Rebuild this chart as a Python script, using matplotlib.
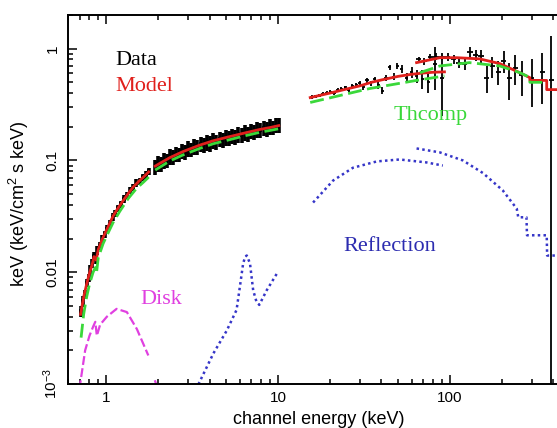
import numpy as np
import matplotlib
matplotlib.use('Agg')
import matplotlib.pyplot as plt
from matplotlib.ticker import NullFormatter

plt.rcParams['font.family'] = 'Liberation Sans'
plt.rcParams['mathtext.fontset'] = 'custom'
plt.rcParams['mathtext.rm'] = 'Liberation Sans'
plt.rcParams['mathtext.it'] = 'Liberation Sans:italic'

# ---- soft band data (0.7-10 keV) ----
lo_E = [0.71, 0.73, 0.75, 0.77, 0.79, 0.81, 0.83, 0.85, 0.87, 0.89,
        0.92, 0.95, 0.98, 1.01, 1.05, 1.09, 1.13, 1.17, 1.22, 1.27,
        1.32, 1.38, 1.44, 1.50, 1.57, 1.64, 1.71, 1.77,
        1.93, 2.00, 2.08, 2.16, 2.25, 2.34, 2.44, 2.54, 2.65, 2.76,
        2.88, 3.00, 3.13, 3.26, 3.40, 3.55, 3.70, 3.86, 4.03, 4.20,
        4.38, 4.57, 4.77, 4.97, 5.19, 5.41, 5.64, 5.89, 6.14, 6.40,
        6.68, 6.97, 7.27, 7.58, 7.91, 8.25, 8.61, 8.98, 9.37, 9.77, 10.1]
lo_F = [0.0045, 0.0055, 0.0064, 0.0080, 0.0089, 0.0106, 0.0120, 0.0140, 0.0130, 0.0157,
        0.0172, 0.0200, 0.0218, 0.0246, 0.0272, 0.0313, 0.0336, 0.0374, 0.0405, 0.0455,
        0.0485, 0.0537, 0.0572, 0.0628, 0.0652, 0.0708, 0.0740, 0.0800,
        0.0880, 0.0945, 0.0932, 0.1005, 0.1000, 0.1085, 0.1070, 0.1145, 0.1130, 0.1210,
        0.1195, 0.1280, 0.1255, 0.1340, 0.1315, 0.1400, 0.1365, 0.1450, 0.1420, 0.1510,
        0.1475, 0.1560, 0.1525, 0.1610, 0.1575, 0.1660, 0.1620, 0.1710, 0.1680, 0.1780,
        0.1740, 0.1840, 0.1810, 0.1900, 0.1865, 0.1960, 0.1920, 0.2010, 0.1975, 0.2070, 0.2090]
lo_err = [0.0005, 0.0006, 0.0006, 0.0007, 0.0008, 0.0009, 0.0010, 0.0012, 0.0011, 0.0013,
          0.0014, 0.0016, 0.0017, 0.0019, 0.0021, 0.0024, 0.0026, 0.0029, 0.0031, 0.0035,
          0.0037, 0.0041, 0.0044, 0.0048, 0.0050, 0.0054, 0.0057, 0.0062,
          0.0135, 0.0150, 0.0140, 0.0160, 0.0150, 0.0170, 0.0160, 0.0180, 0.0170, 0.0190,
          0.0180, 0.0200, 0.0190, 0.0210, 0.0200, 0.0220, 0.0210, 0.0230, 0.0220, 0.0240,
          0.0225, 0.0245, 0.0230, 0.0250, 0.0240, 0.0260, 0.0245, 0.0265, 0.0255, 0.0280,
          0.0265, 0.0290, 0.0275, 0.0300, 0.0285, 0.0305, 0.0290, 0.0315, 0.0300, 0.0325, 0.0330]

# ---- hard band, instrument 1 (15-95 keV) ----
h1_E = [15.8, 16.6, 17.4, 18.3, 19.2, 20.2, 21.2, 22.3, 23.4, 24.6,
        25.8, 27.1, 28.5, 29.9, 31.4, 33.0, 34.7, 36.5, 38.4, 40.4,
        42.5, 44.7, 47.0, 49.5, 52.5, 56.0, 60.0, 64.0, 69.0, 75.0, 82.0, 90.0]
h1_F = [0.370, 0.375, 0.380, 0.395, 0.400, 0.410, 0.400, 0.430, 0.440, 0.450,
        0.430, 0.460, 0.470, 0.490, 0.450, 0.520, 0.490, 0.530, 0.470, 0.420,
        0.550, 0.680, 0.560, 0.700, 0.660, 0.550, 0.620, 0.570, 0.540, 0.500, 0.730, 0.550]
h1_err = [0.012, 0.012, 0.013, 0.013, 0.014, 0.015, 0.015, 0.016, 0.017, 0.018,
          0.018, 0.020, 0.020, 0.022, 0.022, 0.025, 0.025, 0.030, 0.030, 0.030,
          0.035, 0.040, 0.040, 0.045, 0.050, 0.060, 0.070, 0.080, 0.100, 0.100, 0.300, 0.300]

# ---- hard band, instrument 2 (65-400 keV) ----
h2_E = [66, 71, 77, 83, 90, 97, 105, 113, 122, 131, 141,
        152, 164, 177, 191, 206, 222, 240, 262, 300, 345, 390]
h2_F = [0.80, 0.77, 0.84, 0.85, 0.85, 0.84, 0.80, 0.75, 0.73, 0.93, 0.88,
        0.86, 0.55, 0.70, 0.62, 0.78, 0.55, 0.67, 0.58, 0.55, 0.62, 0.52]
h2_err_lo = [0.05, 0.05, 0.06, 0.06, 0.06, 0.07, 0.07, 0.08, 0.08, 0.10, 0.10,
             0.12, 0.15, 0.15, 0.15, 0.18, 0.20, 0.20, 0.20, 0.25, 0.30, 0.5199]
h2_err_hi = [0.05, 0.05, 0.06, 0.06, 0.06, 0.07, 0.07, 0.08, 0.08, 0.10, 0.10,
             0.12, 0.15, 0.15, 0.15, 0.18, 0.20, 0.20, 0.20, 0.25, 0.30, 0.78]

# ---- total model (red) ----
mod_lo_E = [0.71, 0.74, 0.77, 0.80, 0.83, 0.85, 0.875, 0.90, 0.96, 1.02, 1.10, 1.18,
            1.26, 1.35, 1.44, 1.55, 1.65, 1.77]
mod_lo_F = [0.0042, 0.0060, 0.0078, 0.0098, 0.0118, 0.0138, 0.0128, 0.0160, 0.0205, 0.025,
            0.032, 0.038, 0.044, 0.051, 0.058, 0.065, 0.071, 0.079]
mod_mid_E = [1.93, 2.05, 2.35, 2.8, 3.5, 4.2, 5.2, 6.4, 7.8, 9.0, 10.1]
mod_mid_F = [0.089, 0.094, 0.106, 0.120, 0.137, 0.150, 0.163, 0.176, 0.189, 0.197, 0.205]
mod_h1_E = [15.4, 20, 25, 30, 35, 40, 50, 60, 70, 80, 93]
mod_h1_F = [0.365, 0.40, 0.435, 0.465, 0.50, 0.525, 0.565, 0.59, 0.605, 0.615, 0.62]
mod_h2_E = [64, 87.5, 110, 149, 195, 255, 292, 292, 366, 366, 420]
mod_h2_F = [0.75, 0.83, 0.83, 0.81, 0.735, 0.61, 0.55, 0.52, 0.52, 0.43, 0.43]

# ---- Thcomp (green) ----
th_lo_E = [0.715, 0.74, 0.77, 0.80, 0.84, 0.865, 0.88, 0.90, 0.96, 1.02, 1.10, 1.2,
           1.35, 1.5, 1.65, 1.77]
th_lo_F = [0.0026, 0.0042, 0.0060, 0.0078, 0.0100, 0.0110, 0.0100, 0.0135, 0.018, 0.022,
           0.028, 0.035, 0.046, 0.056, 0.064, 0.071]
th_mid_E = [1.93, 2.35, 2.8, 3.5, 4.2, 5.2, 6.4, 7.8, 10.1]
th_mid_F = [0.082, 0.099, 0.112, 0.128, 0.141, 0.153, 0.166, 0.178, 0.192]
th_h1_E = [15.4, 34.2, 64, 93]
th_h1_F = [0.33, 0.44, 0.52, 0.57]
th_h2_E = [67, 87.5, 130, 195, 255, 280, 292, 292, 370]
th_h2_F = [0.61, 0.70, 0.75, 0.70, 0.61, 0.57, 0.55, 0.50, 0.50]

# ---- Reflection (blue) ----
ref_lo_E = [3.3, 3.45, 4.21, 5.03, 5.74, 6.0, 6.27, 6.45, 6.58, 6.87, 7.17, 7.48, 7.78, 8.6, 10.0]
ref_lo_F = [0.0009, 0.001, 0.00188, 0.0030, 0.0046, 0.0074, 0.012, 0.0138, 0.0141, 0.012,
            0.0069, 0.0055, 0.0051, 0.0069, 0.0101]
ref_h1_E = [16, 20.9, 27.3, 37.6, 51, 73, 91]
ref_h1_F = [0.042, 0.066, 0.086, 0.098, 0.102, 0.096, 0.090]
ref_h2_E = [64, 87.5, 119, 156, 203, 245, 250, 279, 281, 366, 368, 450]
ref_h2_F = [0.128, 0.118, 0.100, 0.077, 0.054, 0.037, 0.031, 0.031, 0.0214, 0.0214, 0.0141, 0.0141]

# ---- Disk (magenta) ----
disk_E = [0.70, 0.706, 0.755, 0.80, 0.843, 0.865, 0.883, 0.923, 1.01, 1.15, 1.32, 1.51, 1.76]
disk_F = [0.0009, 0.001, 0.002, 0.0027, 0.0033, 0.0036, 0.0027, 0.0034, 0.0040, 0.0047,
          0.0044, 0.0031, 0.0018]
disk2_E = [1.92, 2.0]
disk2_F = [0.00108, 0.0009]

red = '#e0201c'
green = '#3ad83a'
blue = '#3535c8'
mag = '#e040e0'

fig = plt.figure(figsize=(5.57, 4.28), dpi=100)
ax = fig.add_axes([68/557, 44/428, 502/557, 369/428])
ax.set_xscale('log')
ax.set_yscale('log')
ax.set_xlim(0.6, 500)
ax.set_ylim(1e-3, 2)

# data
lo_E = np.array(lo_E)
ax.errorbar(lo_E, lo_F, xerr=lo_E*0.022, yerr=lo_err, fmt='none', ecolor='black', elinewidth=2.6)
h1_E = np.array(h1_E)
ax.errorbar(h1_E, h1_F, xerr=h1_E*0.022, yerr=h1_err, fmt='none', ecolor='black', elinewidth=1.3)
h2_E = np.array(h2_E)
ax.errorbar(h2_E, h2_F, xerr=h2_E*0.035, yerr=[h2_err_lo, h2_err_hi], fmt='none',
            ecolor='black', elinewidth=1.3)

# total model
for e, f in [(mod_lo_E, mod_lo_F), (mod_mid_E, mod_mid_F), (mod_h1_E, mod_h1_F), (mod_h2_E, mod_h2_F)]:
    ax.plot(e, f, color=red, lw=2)
# thcomp
for e, f in [(th_lo_E, th_lo_F), (th_mid_E, th_mid_F), (th_h1_E, th_h1_F), (th_h2_E, th_h2_F)]:
    ax.plot(e, f, color=green, lw=2, ls=(0, (5, 2)))
# reflection
for e, f in [(ref_lo_E, ref_lo_F), (ref_h1_E, ref_h1_F), (ref_h2_E, ref_h2_F)]:
    ax.plot(e, f, color=blue, lw=1.8, ls=(0, (1, 1.3)))
# disk
ax.plot(disk_E, disk_F, color=mag, lw=1.6, ls=(0, (4, 1.5)))
ax.plot(disk2_E, disk2_F, color=mag, lw=1.6, ls=(0, (4, 1.5)))

# labels inside the plot
serif = 'Liberation Serif'
ax.text(1.13, 0.71, 'Data', color='black', family=serif, fontsize=16)
ax.text(1.13, 0.416, 'Model', color=red, family=serif, fontsize=16)
ax.text(46.8, 0.228, 'Thcomp', color=green, family=serif, fontsize=16)
ax.text(24.0, 0.0155, 'Reflection', color='#2c2cb0', family=serif, fontsize=16)
ax.text(1.577, 0.00515, 'Disk', color=mag, family=serif, fontsize=16)

# axes styling
for s in ax.spines.values():
    s.set_linewidth(1.4)
ax.tick_params(which='both', direction='in', top=True, right=True, width=1.1)
ax.tick_params(which='major', length=6.5, labelsize=11)
ax.tick_params(which='minor', length=3.5)
ax.tick_params(axis='x', which='major', pad=5)
ax.tick_params(axis='y', which='major', pad=6)
ax.set_xticks([1, 10, 100])
ax.set_xticklabels(['1', '10', '100'])
ax.xaxis.set_minor_formatter(NullFormatter())
ax.set_yticks([1e-3, 1e-2, 1e-1, 1])
ax.set_yticklabels(['10$^{-3}$', '0.01', '0.1', '1'], rotation=90, va='center')
ax.yaxis.set_minor_formatter(NullFormatter())

fig.text(319/557, 1 - 420/428, 'channel energy (keV)', ha='center', va='center', fontsize=13)
fig.text(19/557, 1 - 204/428, 'keV (keV/cm$^2$ s keV)', ha='center', va='center',
         rotation=90, fontsize=13)

fig.savefig('out.png', dpi=100)
